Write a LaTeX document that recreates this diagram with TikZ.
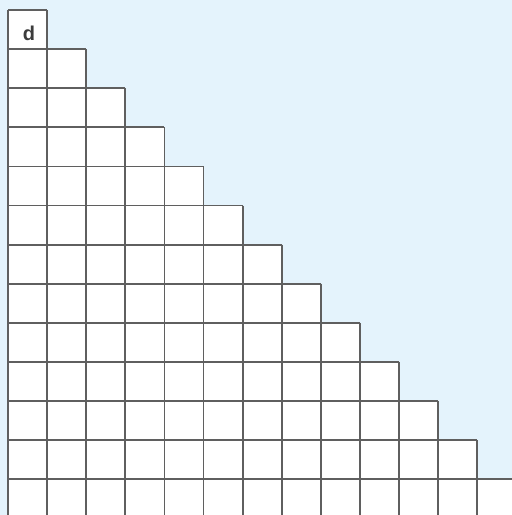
\documentclass[tikz,border=0pt]{standalone}
\usepackage{fontspec}
\setsansfont{Liberation Sans}
\definecolor{bgblue}{RGB}{228,243,252}
\definecolor{gridgray}{RGB}{95,95,95}
\definecolor{textgray}{RGB}{60,60,60}
\begin{document}
\begin{tikzpicture}[x=1pt,y=-1pt,
  gridline/.style={draw=gridgray,line width=1.8pt},
  cellfill/.style={fill=white},
  label/.style={font=\sffamily\bfseries\fontsize{20}{20}\selectfont,text=textgray,inner sep=0pt}]
\def\s{39.1}
\useasboundingbox (0,0) rectangle (512,515);
\fill[bgblue] (0,0) rectangle (512,515);
% white staircase region
\fill[cellfill] (8,10)
  \foreach \i in {1,...,12} { -- ({8+\i*\s},{10+(\i-1)*\s}) -- ({8+\i*\s},{10+\i*\s}) }
  -- (512,{10+12*\s}) -- (512,515) -- (8,515) -- cycle;
\begin{scope}
\clip (0,0) rectangle (512,515);
% horizontal lines
\foreach \k in {0,...,11} {
  \draw[gridline] (8,{10+\k*\s}) -- ({8+(\k+1)*\s},{10+\k*\s});
}
\draw[gridline] (8,{10+12*\s}) -- (512,{10+12*\s});
% vertical lines
\draw[gridline] (8,10) -- (8,515);
\foreach \j in {1,...,12} {
  \draw[gridline] ({8+\j*\s},{10+(\j-1)*\s}) -- ({8+\j*\s},515);
}
\end{scope}
\node[label] (d) at (29,33) {d};
\end{tikzpicture}
\end{document}
